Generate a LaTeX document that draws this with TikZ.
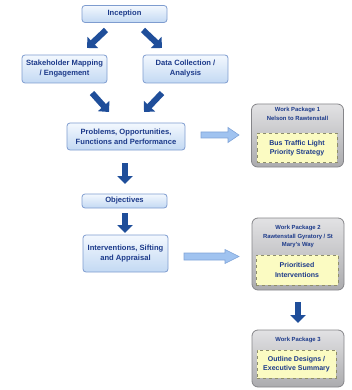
\documentclass[tikz,border=0pt]{standalone}
\usepackage{fontspec}
\setmainfont{Liberation Sans}
\usetikzlibrary{arrows.meta,calc}
\definecolor{txtblue}{HTML}{1C3A8A}
\definecolor{boxline}{HTML}{7E9CCF}
\definecolor{boxtop}{HTML}{F3F8FE}
\definecolor{boxbot}{HTML}{C3D9F3}
\definecolor{darkarrow}{HTML}{1F4E9A}
\definecolor{lbfill}{HTML}{A0C3F0}
\definecolor{lbline}{HTML}{7FA3D8}
\definecolor{greytop}{HTML}{E2E2E4}
\definecolor{greybot}{HTML}{ABABAE}
\definecolor{greyline}{HTML}{858589}
\definecolor{yfill}{HTML}{FBFBC2}
\definecolor{yline}{HTML}{8E8E6A}
\tikzset{
  bluebox/.style={draw=boxline, line width=0.8pt, rounded corners=3pt,
    top color=boxtop, bottom color=boxbot, text=txtblue,
    font=\fontsize{7.6}{10}\selectfont\bfseries, align=center, inner sep=0pt},
  greybox/.style={draw=greyline, line width=0.8pt, rounded corners=6pt,
    top color=greytop, bottom color=greybot, inner sep=0pt},
  yelbox/.style={draw=yline, dashed, line width=0.7pt, fill=yfill, text=txtblue,
    font=\fontsize{7}{9.5}\selectfont\bfseries, align=center, inner sep=0pt},
  wptext/.style={text=txtblue, font=\fontsize{5.9}{8}\selectfont\bfseries, align=center, inner sep=0pt},
  darrowstyle/.style={draw=darkarrow, line width=6pt, -{Triangle[width=15pt,length=8pt]}},
  lbarrow/.style={fill=lbfill, draw=lbline, line width=0.6pt, line join=miter}
}
\begin{document}
\begin{tikzpicture}[x=1pt,y=-1pt]
\useasboundingbox (0,0) rectangle (351,390);
% main column
\node[bluebox, minimum width=85pt, minimum height=17pt] (incep) at (124.5,14) {Inception};
\node[bluebox, minimum width=85pt, minimum height=28pt] (stake) at (64.5,69) {Stakeholder Mapping\\/ Engagement};
\node[bluebox, minimum width=85pt, minimum height=28pt] (data) at (185.5,69) {Data Collection /\\Analysis};
\node[bluebox, minimum width=118pt, minimum height=27pt] (prob) at (126,136.5) {Problems, Opportunities,\\Functions and Performance};
\node[bluebox, minimum width=85pt, minimum height=14pt] (obj) at (124.5,201) {Objectives};
\node[bluebox, minimum width=85pt, minimum height=37pt] (interv) at (125.5,253.5) {Interventions, Sifting\\and Appraisal};
% work packages
\node[greybox, minimum width=92pt, minimum height=63pt] (wp1) at (297.5,135.5) {};
\node[wptext] (wp1a) at (297.5,110) {Work Package 1};
\node[wptext] (wp1b) at (297.5,118.5) {Nelson to Rawtenstall};
\node[yelbox, minimum width=80pt, minimum height=29pt] (wp1c) at (297,148) {Bus Traffic Light\\Priority Strategy};

\node[greybox, minimum width=92pt, minimum height=72pt] (wp2) at (298,254) {};
\node[wptext] (wp2a) at (298,228) {Work Package 2};
\node[wptext] (wp2b) at (298,241) {Rawtenstall Gyratory / St\\Mary's Way};
\node[yelbox, minimum width=82pt, minimum height=30pt] (wp2c) at (297,270) {Prioritised\\Interventions};

\node[greybox, minimum width=92pt, minimum height=57pt] (wp3) at (298,358.5) {};
\node[wptext] (wp3a) at (298,340) {Work Package 3};
\node[yelbox, minimum width=79pt, minimum height=28pt] (wp3c) at (296.5,364) {Outline Designs /\\Executive Summary};

% dark arrows
\coordinate (d1s) at (106,30); \coordinate (d1e) at (87,48);
\coordinate (d2s) at (143,30); \coordinate (d2e) at (162,48);
\coordinate (d3s) at (92,93); \coordinate (d3e) at (109,112);
\coordinate (d4s) at (162,93); \coordinate (d4e) at (144,112);
\coordinate (d5s) at (125,163); \coordinate (d5e) at (125,184);
\coordinate (d6s) at (125,213); \coordinate (d6e) at (125,233);
\coordinate (d7s) at (298,302); \coordinate (d7e) at (298,323);
\draw[darrowstyle] (d1s) -- (d1e);
\draw[darrowstyle] (d2s) -- (d2e);
\draw[darrowstyle] (d3s) -- (d3e);
\draw[darrowstyle] (d4s) -- (d4e);
\draw[darrowstyle] (d5s) -- (d5e);
\draw[darrowstyle] (d6s) -- (d6e);
\draw[darrowstyle] (d7s) -- (d7e);

% light blue arrows
\coordinate (a1s) at (201,135); \coordinate (a1e) at (239,135);
\filldraw[lbarrow] ($(a1s)+(0,-3)$) -- ($(a1e)+(-11,-3)$) -- ($(a1e)+(-11,-7.5)$) -- (a1e)
  -- ($(a1e)+(-11,7.5)$) -- ($(a1e)+(-11,3)$) -- ($(a1s)+(0,3)$) -- cycle;
\coordinate (a2s) at (184,256.5); \coordinate (a2e) at (239,256.5);
\filldraw[lbarrow] ($(a2s)+(0,-3.5)$) -- ($(a2e)+(-14,-3.5)$) -- ($(a2e)+(-14,-7)$) -- (a2e)
  -- ($(a2e)+(-14,7)$) -- ($(a2e)+(-14,3.5)$) -- ($(a2s)+(0,3.5)$) -- cycle;
\end{tikzpicture}
\end{document}
